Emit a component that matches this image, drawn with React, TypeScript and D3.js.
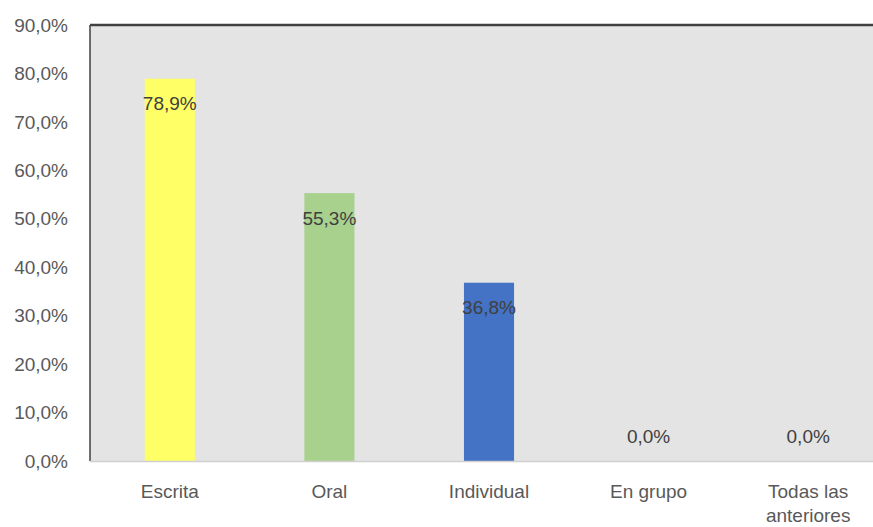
import React from "react";
import * as d3 from "d3";

const categories = ["Escrita", "Oral", "Individual", "En grupo", "Todas las anteriores"];
const values = [78.9, 55.3, 36.8, 0.0, 0.0];
const barColors = ["#ffff66", "#a9d18e", "#4472c4", "#4472c4", "#4472c4"];
const yTicks = [0, 10, 20, 30, 40, 50, 60, 70, 80, 90];

const W = 873;
const H = 527;
const plotLeft = 90;
const plotRight = 888;
const plotTop = 25;
const plotBottom = 461;

const fmt = (v: number) => v.toFixed(1).replace(".", ",") + "%";

export default function App() {
  const x = d3.scaleBand<string>().domain(categories).range([plotLeft, plotRight]).paddingInner(0.686).paddingOuter(0.343);
  const y = d3.scaleLinear().domain([0, 90]).range([plotBottom, plotTop]);
  const font = "'Liberation Sans', Arial, sans-serif";
  const splitLabel = (c: string) => (c === "Todas las anteriores" ? ["Todas las", "anteriores"] : [c]);
  const labelY = (v: number) => (v > 0 ? y(v) + 25 : y(0) - 25);
  return (
    <svg width={W} height={H} style={{ position: "absolute", left: 0, top: 0 }}>
      <rect x={0} y={0} width={W} height={H} fill="#ffffff" />
      <rect x={plotLeft} y={plotTop} width={plotRight - plotLeft} height={plotBottom - plotTop} fill="#e4e4e4" />
      <line x1={plotLeft} x2={plotRight} y1={plotTop} y2={plotTop} stroke="#404040" strokeWidth={2.5} />
      <line x1={plotLeft} x2={plotLeft} y1={plotTop} y2={plotBottom} stroke="#404040" strokeWidth={1.5} />
      {categories.map((c, i) => (
        <rect key={c} x={x(c)} y={y(values[i])} width={x.bandwidth()} height={plotBottom - y(values[i])} fill={barColors[i]} />
      ))}
      <line x1={plotLeft} x2={plotRight} y1={plotBottom + 0.5} y2={plotBottom + 0.5} stroke="#d0d0d0" strokeWidth={1.5} />
      {yTicks.map((t) => (
        <text key={t} x={68} y={y(t)} dy="0.35em" textAnchor="end" fontFamily={font} fontSize={19} fill="#595959">
          {fmt(t)}
        </text>
      ))}
      {categories.map((c, i) => (
        <text key={c} x={(x(c) as number) + x.bandwidth() / 2} y={labelY(values[i])} dy="0.35em" textAnchor="middle" fontFamily={font} fontSize={19} fill="#404040">
          {fmt(values[i])}
        </text>
      ))}
      {categories.map((c) => (
        <text key={c} x={(x(c) as number) + x.bandwidth() / 2} y={491} textAnchor="middle" fontFamily={font} fontSize={19} fill="#595959">
          {splitLabel(c).map((line, j) => (
            <tspan key={j} x={(x(c) as number) + x.bandwidth() / 2} dy={j === 0 ? "0.35em" : 24}>
              {line}
            </tspan>
          ))}
        </text>
      ))}
    </svg>
  );
}
